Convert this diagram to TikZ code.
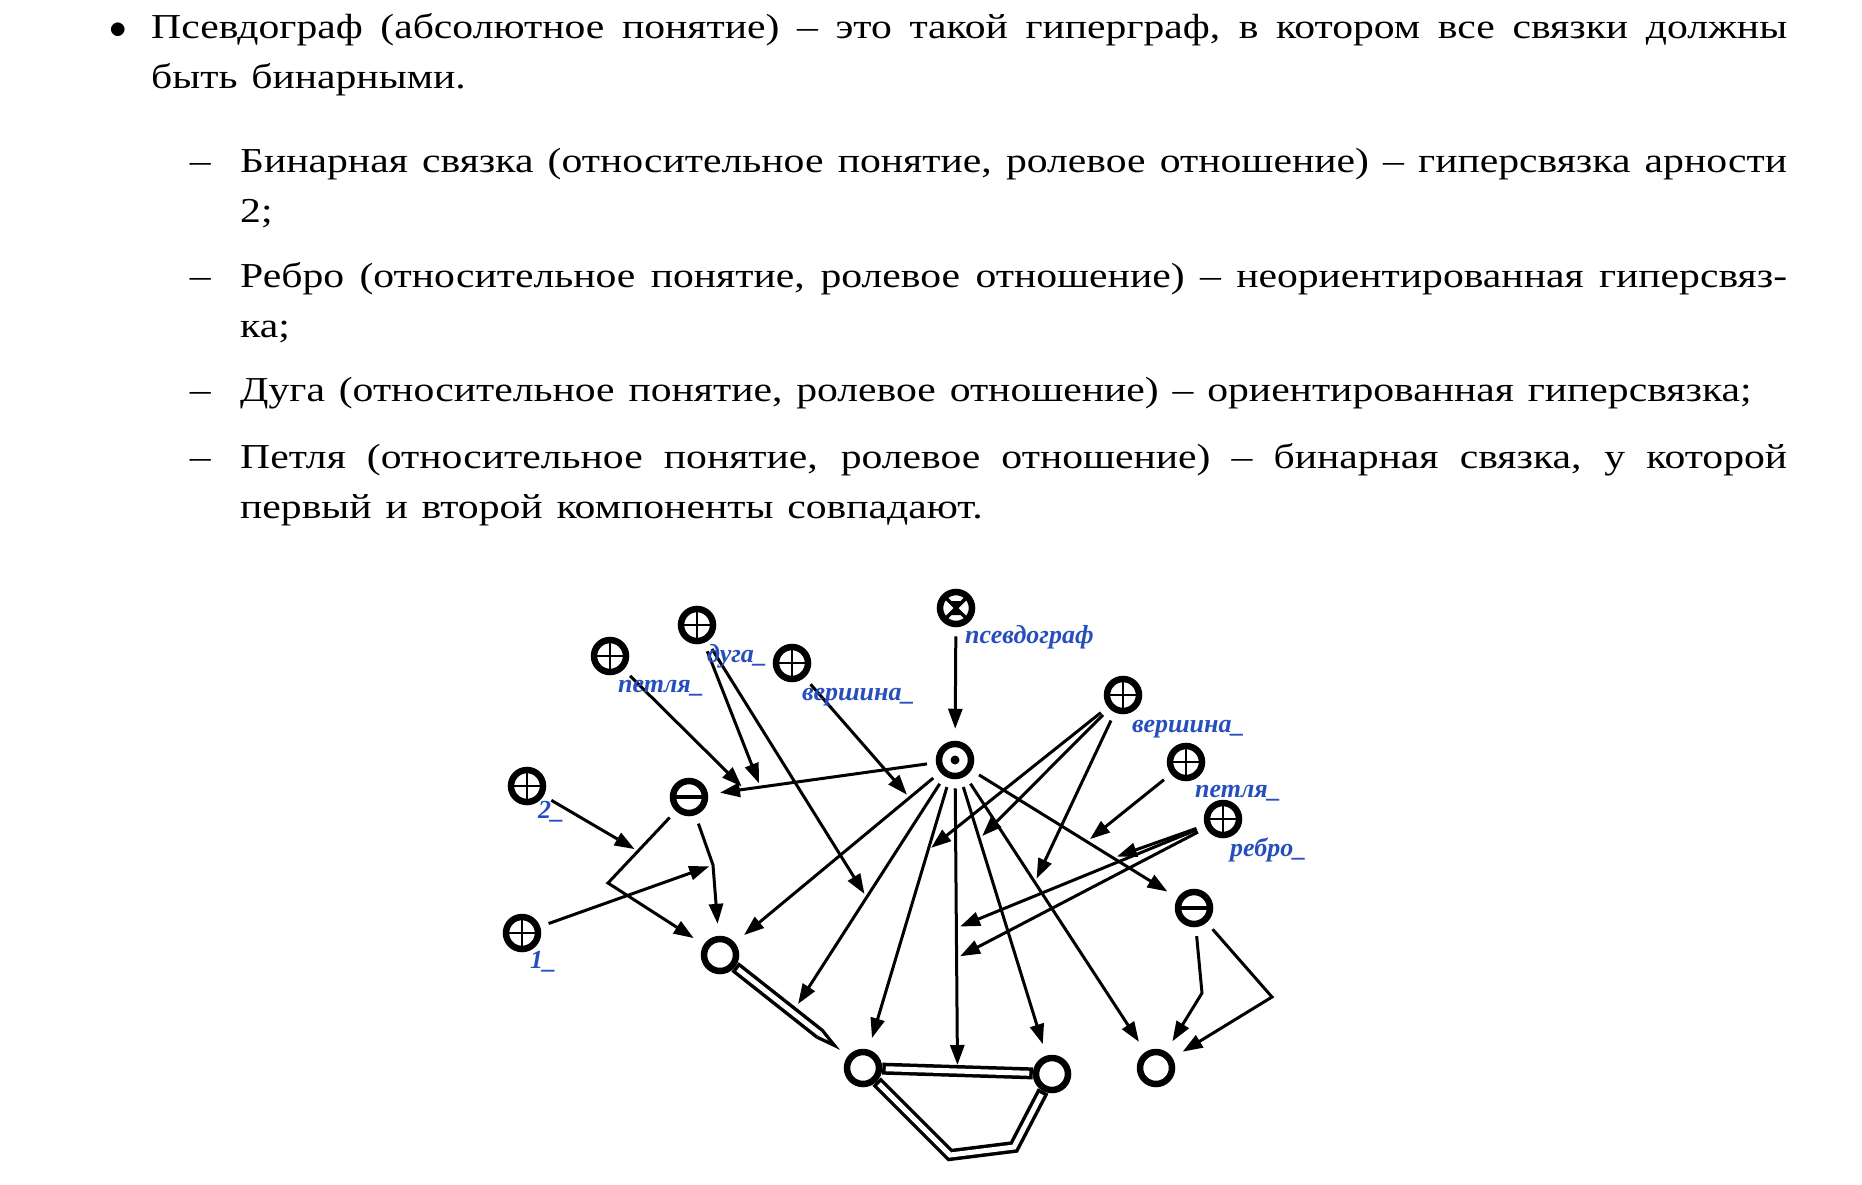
\RequirePackage{fix-cm}
\documentclass[tikz,border=0pt]{standalone}
\usepackage{fontspec}
\setmainfont[FakeStretch=1.19,WordSpace=1.33]{Liberation Serif}
\newfontfamily\scfont{Liberation Serif}
\usepackage[dvipsnames]{xcolor}
\usepackage{tikz}
\usetikzlibrary{arrows.meta}
\definecolor{scblue}{RGB}{38,78,188}

\begin{document}
\begin{tikzpicture}[x=1pt,y=-1pt]
	\tikzstyle{textpar}=[anchor=base west,inner sep=0pt,align=justify,font=\fontsize{35}{50}\selectfont]
	\tikzstyle{itemlbl}=[anchor=base east,inner sep=0pt,font=\fontsize{35}{50}\selectfont]
	\tikzstyle{scnode}=[circle,draw=black,line width=6.5pt,minimum size=32pt,inner sep=0pt]
	\tikzstyle{rolenode}=[scnode,path picture={\draw[line width=2.6pt] (path picture bounding box.north) -- (path picture bounding box.south) (path picture bounding box.west) -- (path picture bounding box.east);}]
	\tikzstyle{tuplenode}=[scnode,path picture={\draw[line width=3.5pt] (path picture bounding box.west) -- (path picture bounding box.east);}]
	\tikzstyle{structnode}=[scnode,path picture={\fill (path picture bounding box.center) circle[radius=4.5pt];}]
	\tikzstyle{classnode}=[scnode,path picture={\draw[line width=3.5pt] (path picture bounding box.north west) -- (path picture bounding box.south east) (path picture bounding box.north east) -- (path picture bounding box.south west); \fill (path picture bounding box.center) -- ++(-6pt,7pt) -- ++(12pt,0pt) -- cycle (path picture bounding box.center) -- ++(-6pt,-7pt) -- ++(12pt,0pt) -- cycle;}]
	\tikzstyle{sclabel}=[anchor=base west,inner sep=0pt,text=scblue,font=\scfont\fontsize{26}{30}\selectfont\bfseries\itshape]
	\tikzstyle{scarc}=[line width=3pt,shorten <=9pt,shorten >=12pt,-{Triangle[length=20pt,width=14pt]}]
	\tikzstyle{rolearc}=[scarc,shorten >=4pt]
	\tikzstyle{pairedge}=[white,line width=5pt,shorten <=3.5pt,shorten >=3.5pt,preaction={draw=black,line width=12pt,shorten <=0pt,shorten >=0pt}]
	\tikzstyle{pairarc}=[white,line width=5pt,shorten <=3.5pt,shorten >=25pt,-{Triangle[length=11pt,width=5pt,line width=0pt]},preaction={draw=black,line width=12pt,shorten <=0pt,shorten >=10pt,-{Triangle[length=26pt,width=12pt,line width=0pt]}}]
	\useasboundingbox (0,0) rectangle (1862,1184);

	\node[itemlbl,anchor=base] (bul) at (118,38) {$\bullet$};
	\node[textpar,text width=1636pt] (t0) at (151,38) {Псевдограф (абсолютное понятие) -- это такой гиперграф, в котором все связки должны\linebreak быть бинарными.};
	\node[itemlbl] (d1) at (211,172) {--};
	\node[textpar,text width=1547pt] (t1) at (240,172) {Бинарная связка (относительное понятие, ролевое отношение) -- гиперсвязка арности\linebreak 2;};
	\node[itemlbl] (d2) at (211,287) {--};
	\node[textpar,text width=1547pt] (t2) at (240,287) {Ребро (относительное понятие, ролевое отношение) -- неориентированная гиперсвяз-\linebreak ка;};
	\node[itemlbl] (d3) at (211,401) {--};
	\node[textpar,text width=1547pt] (t3) at (240,401) {Дуга (относительное понятие, ролевое отношение) -- ориентированная гиперсвязка;};
	\node[itemlbl] (d4) at (211,468) {--};
	\node[textpar,text width=1547pt] (t4) at (240,468) {Петля (относительное понятие, ролевое отношение) -- бинарная связка, у которой\linebreak первый и второй компоненты совпадают.};

	\node[classnode] (P) at (956,608) {};
	\node[structnode] (S) at (955,760) {};
	\node[rolenode] (rP1) at (610,656) {};
	\node[rolenode] (rD) at (697,625) {};
	\node[rolenode] (rV1) at (792,663) {};
	\node[rolenode] (r2) at (527,786) {};
	\node[rolenode] (r1) at (522,933) {};
	\node[rolenode] (rV2) at (1123,695) {};
	\node[rolenode] (rP2) at (1186,762) {};
	\node[rolenode] (rR) at (1223,819) {};
	\node[tuplenode] (M1) at (689,797) {};
	\node[tuplenode] (M2) at (1194,908) {};
	\node[scnode] (O1) at (720,955) {};
	\node[scnode] (O2) at (863,1068) {};
	\node[scnode] (O3) at (1052,1074) {};
	\node[scnode] (O4) at (1156,1068) {};
	\coordinate (k1) at (608,883);
	\coordinate (k2) at (713,865);
	\coordinate (k3) at (1202,993);
	\coordinate (k4) at (1272,997);
	\coordinate (b1) at (950,1155);
	\coordinate (b2) at (1014,1147);

	\draw[pairarc] (O1) -- coordinate[pos=.51] (e12) (O2);
	\draw[pairedge] (O2) -- coordinate[pos=.5] (e23) (O3);
	\draw[pairedge] (O2) -- (b1) -- (b2) -- (O3);

	\draw[scarc] (P) -- (S);
	\draw[scarc] (S) -- coordinate[pos=.77] (toM1a) coordinate[pos=.84] (toM1b) (M1);
	\draw[scarc] (S) -- coordinate[pos=.149] (toO1) (O1);
	\draw[scarc,shorten >=10pt] (S) -- coordinate[pos=.513] (toE12) (e12);
	\draw[scarc] (S) -- coordinate[pos=.265] (toO2) (O2);
	\draw[scarc,shorten >=6pt] (S) -- coordinate[pos=.51] (toE23a) coordinate[pos=.613] (toE23b) (e23);
	\draw[scarc] (S) -- coordinate[pos=.218] (toO3) (O3);
	\draw[scarc] (S) -- coordinate[pos=.385] (toO4) (O4);
	\draw[scarc] (S) -- coordinate[pos=.56] (toM2a) coordinate[pos=.687] (toM2b) (M2);

	\draw[scarc] (M1) -- coordinate[pos=.557] (comp2) (k1) -- (O1);
	\draw[scarc] (M1) -- (k2) -- (O1);
	\draw[scarc] (M2) -- (k3) -- (O4);
	\draw[scarc] (M2) -- (k4) -- (O4);

	\draw[rolearc] (rP1) -- (toM1b);
	\draw[rolearc] (rD) -- (toM1a);
	\draw[rolearc] (rD) -- (toE12);
	\draw[rolearc] (rV1) -- (toO1);
	\draw[rolearc] (rV2) -- (toO2);
	\draw[rolearc] (rV2) -- (toO3);
	\draw[rolearc] (rV2) -- (toO4);
	\draw[rolearc] (rP2) -- (toM2a);
	\draw[rolearc] (rR) -- (toM2b);
	\draw[rolearc] (rR) -- (toE23a);
	\draw[rolearc] (rR) -- (toE23b);
	\draw[rolearc] (r2) -- (comp2);
	\draw[rolearc] (r1) -- (k2);

	\node[sclabel] (lP) at (965,643) {псевдограф};
	\node[sclabel] (lP1) at (618,692) {петля\_};
	\node[sclabel] (lD) at (707,662) {дуга\_};
	\node[sclabel] (lV1) at (802,700) {вершина\_};
	\node[sclabel] (l2) at (538,818) {2\_};
	\node[sclabel] (l1) at (530,968) {1\_};
	\node[sclabel] (lV2) at (1132,732) {вершина\_};
	\node[sclabel] (lP2) at (1195,797) {петля\_};
	\node[sclabel] (lR) at (1230,856) {ребро\_};
\end{tikzpicture}
\end{document}
